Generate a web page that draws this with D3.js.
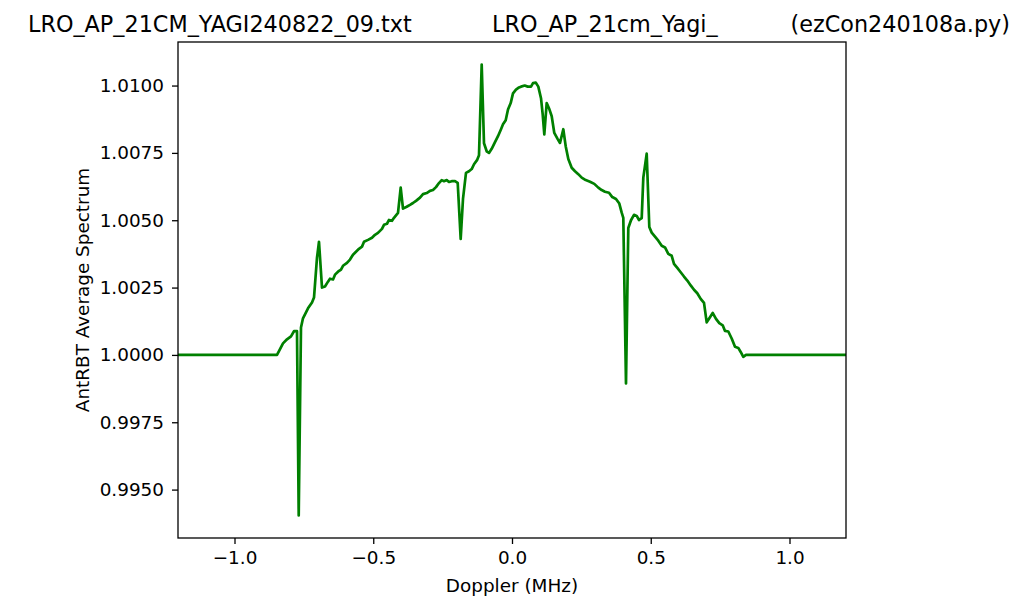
<!DOCTYPE html>
<html>
<head>
<meta charset="utf-8">
<script src="https://cdn.jsdelivr.net/npm/d3@7"></script>
<style>
  html, body { margin: 0; padding: 0; background: #fff; }
  svg { display: block; font-family: "DejaVu Sans", sans-serif; }
</style>
</head>
<body>
<svg id="chart" width="1024" height="611"></svg>
<script>
// Doppler (MHz)
const dopplerMHz = [
  -1.2036, -0.8468, -0.8252, -0.8108, -0.7964, -0.7856, -0.7748, -0.7686, -0.7604, -0.7532,
  -0.7351, -0.7207, -0.7135, -0.7027, -0.6955, -0.6847, -0.6739, -0.6631, -0.6559, -0.6450,
  -0.6378, -0.6270, -0.6162, -0.6090, -0.5946, -0.5838, -0.5730, -0.5622, -0.5514, -0.5405,
  -0.5333, -0.5189, -0.5045, -0.4937, -0.4829, -0.4685, -0.4613, -0.4505, -0.4432, -0.4324,
  -0.4252, -0.4108, -0.4011, -0.3928, -0.3795, -0.3676, -0.3568, -0.3459, -0.3315, -0.3207,
  -0.3074, -0.2955, -0.2847, -0.2739, -0.2631, -0.2533, -0.2450, -0.2353, -0.2270, -0.2173,
  -0.2054, -0.1957, -0.1849, -0.1766, -0.1658, -0.1550, -0.1452, -0.1369, -0.1261, -0.1189,
  -0.1092, -0.1009, -0.0912, -0.0829, -0.0732, -0.0613, -0.0505, -0.0396, -0.0324, -0.0227,
  -0.0144, -0.0047, 0.0036, 0.0144, 0.0252, 0.0324, 0.0458, 0.0566, 0.0685, 0.0757,
  0.0854, 0.0948, 0.1045, 0.1106, 0.1164, 0.1250, 0.1333, 0.1431, 0.1524, 0.1647,
  0.1730, 0.1849, 0.1935, 0.2029, 0.2151, 0.2270, 0.2389, 0.2512, 0.2656, 0.2811,
  0.2966, 0.3110, 0.3232, 0.3351, 0.3495, 0.3614, 0.3748, 0.3867, 0.3953, 0.4011,
  0.4108, 0.4191, 0.4288, 0.4396, 0.4494, 0.4577, 0.4674, 0.4732, 0.4854, 0.4948,
  0.5034, 0.5153, 0.5272, 0.5395, 0.5514, 0.5632, 0.5755, 0.5838, 0.5957, 0.6079,
  0.6198, 0.6317, 0.6440, 0.6559, 0.6677, 0.6800, 0.6919, 0.7016, 0.7135, 0.7232,
  0.7351, 0.7470, 0.7593, 0.7676, 0.7795, 0.7917, 0.8036, 0.8155, 0.8241, 0.8335,
  0.8432, 1.2036
];
// AntRBT Average Spectrum
const spectrum = [
  1.00000, 1.00000, 1.00043, 1.00058, 1.00069, 1.00088, 1.00088, 0.99404, 1.00102, 1.00136,
  1.00173, 1.00195, 1.00213, 1.00361, 1.00420, 1.00250, 1.00254, 1.00272, 1.00283, 1.00280,
  1.00298, 1.00309, 1.00317, 1.00331, 1.00342, 1.00354, 1.00372, 1.00383, 1.00394, 1.00402,
  1.00420, 1.00427, 1.00435, 1.00446, 1.00453, 1.00468, 1.00483, 1.00487, 1.00501, 1.00498,
  1.00509, 1.00527, 1.00621, 1.00543, 1.00550, 1.00557, 1.00564, 1.00572, 1.00584, 1.00597,
  1.00601, 1.00609, 1.00612, 1.00623, 1.00638, 1.00649, 1.00645, 1.00649, 1.00642, 1.00645,
  1.00645, 1.00639, 1.00431, 1.00579, 1.00676, 1.00682, 1.00690, 1.00708, 1.00723, 1.00741,
  1.01078, 1.00786, 1.00756, 1.00750, 1.00765, 1.00790, 1.00812, 1.00838, 1.00856, 1.00871,
  1.00911, 1.00935, 1.00971, 1.00985, 1.00993, 1.00996, 1.01000, 1.00996, 1.00996, 1.01009,
  1.01011, 1.00996, 1.00953, 1.00893, 1.00819, 1.00935, 1.00916, 1.00886, 1.00824, 1.00801,
  1.00787, 1.00838, 1.00775, 1.00727, 1.00695, 1.00682, 1.00671, 1.00658, 1.00649, 1.00643,
  1.00635, 1.00621, 1.00612, 1.00606, 1.00602, 1.00586, 1.00579, 1.00562, 1.00528, 1.00509,
  0.99894, 1.00471, 1.00500, 1.00520, 1.00516, 1.00501, 1.00508, 1.00658, 1.00747, 1.00475,
  1.00454, 1.00439, 1.00424, 1.00405, 1.00399, 1.00375, 1.00368, 1.00338, 1.00323, 1.00307,
  1.00291, 1.00276, 1.00258, 1.00242, 1.00229, 1.00208, 1.00193, 1.00121, 1.00140, 1.00156,
  1.00134, 1.00118, 1.00110, 1.00089, 1.00087, 1.00061, 1.00030, 1.00026, 1.00011, 0.99993,
  1.00000, 1.00000
];
const xTicks = [-1.0, -0.5, 0.0, 0.5, 1.0];
const yTicks = [0.9950, 0.9975, 1.0000, 1.0025, 1.0050, 1.0075, 1.0100];
const titleParts = ["LRO_AP_21CM_YAGI240822_09.txt", "LRO_AP_21cm_Yagi_", "(ezCon240108a.py)"];
const xLabel = "Doppler (MHz)";
const yLabel = "AntRBT Average Spectrum";

const W = 1024, H = 611;
const margin = { left: 178, top: 42, right: 1024 - 846, bottom: 611 - 538 };
const iw = W - margin.left - margin.right;
const ih = H - margin.top - margin.bottom;

const svg = d3.select("#chart");
const g = svg.append("g").attr("transform", `translate(${margin.left},${margin.top})`);

const x = d3.scaleLinear().domain([-1.2036, 1.2036]).range([0, iw]);
const yMin = d3.min(spectrum), yMax = d3.max(spectrum);
const pad = (yMax - yMin) * 0.05;
const y = d3.scaleLinear().domain([yMin - pad, yMax + pad]).range([ih, 0]);

const data = dopplerMHz.map((d, i) => [d, spectrum[i]]);

g.append("defs").append("clipPath").attr("id", "clip")
  .append("rect").attr("width", iw).attr("height", ih);

g.append("path")
  .datum(data)
  .attr("clip-path", "url(#clip)")
  .attr("fill", "none")
  .attr("stroke", "#008000")
  .attr("stroke-width", 2.7)
  .attr("stroke-linejoin", "round")
  .attr("stroke-linecap", "butt")
  .attr("d", d3.line().x(d => x(d[0])).y(d => y(d[1])));

const fmtX = v => (v < 0 ? "\u2212" : "") + Math.abs(v).toFixed(1);
const xAxis = d3.axisBottom(x).tickValues(xTicks).tickFormat(fmtX).tickSize(6).tickPadding(7);
const yAxis = d3.axisLeft(y).tickValues(yTicks).tickFormat(d3.format(".4f")).tickSize(6).tickPadding(8);

const gx = g.append("g").attr("transform", `translate(0,${ih})`).call(xAxis);
const gy = g.append("g").call(yAxis);
[gx, gy].forEach(a => {
  a.select(".domain").remove();
  a.selectAll(".tick line").attr("stroke", "#000").attr("stroke-width", 1.3);
  a.selectAll(".tick text").attr("fill", "#000")
    .style("font-family", "'DejaVu Sans', sans-serif").style("font-size", "18.4px");
});

g.append("rect").attr("width", iw).attr("height", ih)
  .attr("fill", "none").attr("stroke", "#000").attr("stroke-width", 1.3);

svg.append("text").attr("x", 512).attr("y", 592).attr("text-anchor", "middle")
  .style("font-size", "18.4px").attr("fill", "#000").text(xLabel);
svg.append("text").attr("transform", "translate(89,290) rotate(-90)").attr("text-anchor", "middle")
  .style("font-size", "18.4px").attr("fill", "#000").text(yLabel);

svg.append("text").attr("x", 28).attr("y", 32).attr("text-anchor", "start")
  .style("font-size", "22.3px").attr("fill", "#000").text(titleParts[0]);
svg.append("text").attr("x", 492).attr("y", 32).attr("text-anchor", "start")
  .style("font-size", "22.3px").attr("fill", "#000").text(titleParts[1]);
svg.append("text").attr("x", 1010).attr("y", 32).attr("text-anchor", "end")
  .style("font-size", "22.3px").attr("fill", "#000").text(titleParts[2]);
</script>
</body>
</html>
